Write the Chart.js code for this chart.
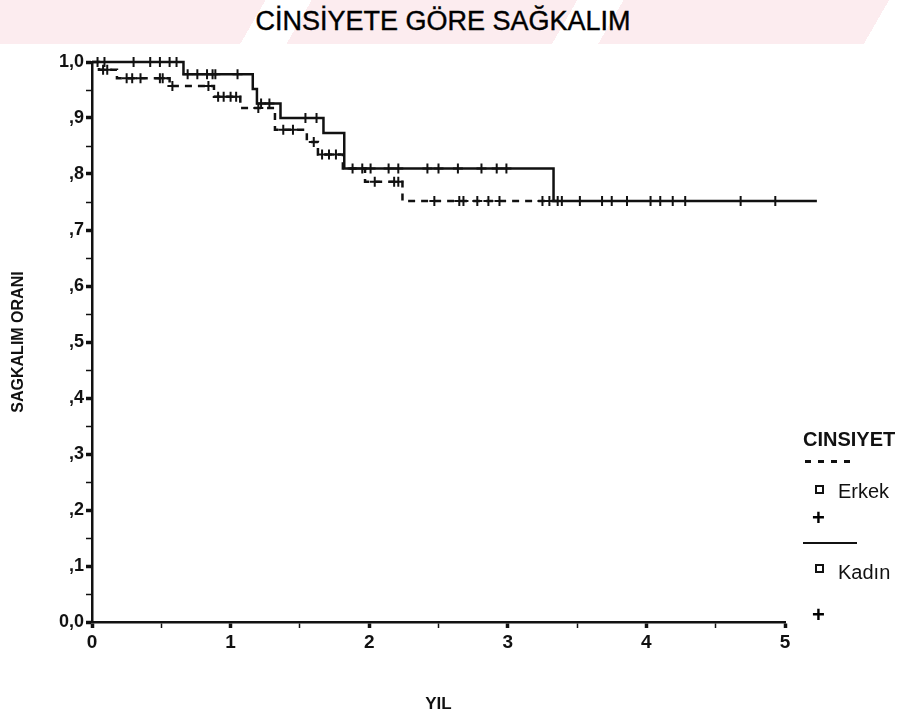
<!DOCTYPE html>
<html>
<head>
<meta charset="utf-8">
<script src="https://cdn.jsdelivr.net/npm/chart.js@4.4.1/dist/chart.umd.min.js"></script>
<style>
    body { margin: 0; background: #fff; }
    #wrap { position: relative; width: 905px; height: 722px; overflow: hidden; }
    #band {
        position: absolute; left: 0; top: 0; width: 905px; height: 44px;
        background: repeating-linear-gradient(120deg, #fcecef 0 230px, #ffffff 230px 270px);
    }
    #title {
        position: absolute; left: 0; top: 6px; width: 886px; text-align: center;
        font-family: "Liberation Sans", Arial, sans-serif; font-size: 27px; color: #000;
        -webkit-text-stroke: 0.4px #000;
    }
    .lg { position: absolute; font-family: "Liberation Sans", Arial, sans-serif; color: #111; line-height: 1; }
    .txt { font-size: 20px; }
    .dash { position: absolute; height: 3px; background: repeating-linear-gradient(90deg, #111 0 6px, transparent 6px 13px); }
    .sq { position: absolute; width: 5px; height: 5px; border: 2px solid #111; }
    .plus { position: absolute; font-family: "Liberation Sans", Arial, sans-serif; font-weight: bold; font-size: 22px; line-height: 22px; }
</style>
</head>
<body>
<div id="wrap">
    <div id="band"></div>
    <div id="title">CİNSİYETE GÖRE SAĞKALIM</div>
    <canvas id="km"></canvas>
    <!-- lejant -->
    <div class="lg txt" style="left:803px; top:429px; font-weight:bold;">CINSIYET</div>
    <div class="dash" style="left:805px; top:460px; width:46px;"></div>
    <div class="sq" style="left:815px; top:485px;"></div>
    <div class="lg txt" style="left:838px; top:481px;">Erkek</div>
    <div class="plus" style="left:812px; top:507px;">+</div>
    <div class="lg" style="left:803px; top:542px; width:54px; border-top:2px solid #111;"></div>
    <div class="sq" style="left:815px; top:564px;"></div>
    <div class="lg txt" style="left:838px; top:562px;">Kadın</div>
    <div class="plus" style="left:812px; top:604px;">+</div>
</div>
<script>
// Kaplan-Meier verileri (yıl, sağkalım oranı)
const kadinTimes = [0, 0.66, 1.16, 1.19, 1.36, 1.67, 1.82, 3.33, 5.23];
const kadinSurv  = [1.0, 0.978, 0.952, 0.926, 0.90, 0.873, 0.81, 0.752, 0.752];
const erkekTimes = [0, 0.05, 0.18, 0.56, 0.88, 1.07, 1.32, 1.55, 1.63, 1.81, 1.97, 2.24, 3.40];
const erkekSurv  = [1.0, 0.986, 0.971, 0.957, 0.938, 0.918, 0.879, 0.857, 0.835, 0.81, 0.786, 0.752, 0.752];

// Sansürlenmiş gözlemler (+)
const kadinCensor = [0.04, 0.09, 0.30, 0.42, 0.49, 0.56, 0.61, 0.69, 0.76, 0.83, 0.87, 0.89, 1.05,
    1.22, 1.28, 1.54, 1.62, 1.88, 1.95, 2.01, 2.14, 2.21, 2.42, 2.50, 2.64, 2.81, 2.92, 2.99,
    3.36, 3.39, 3.52, 3.68, 3.75, 3.86, 4.03, 4.10, 4.19, 4.28, 4.68, 4.93];
const erkekCensor = [0.08, 0.11, 0.25, 0.29, 0.35, 0.49, 0.51, 0.58, 0.84, 0.91, 0.95, 1.00, 1.04,
    1.20, 1.38, 1.45, 1.60, 1.66, 1.71, 1.76, 2.04, 2.18, 2.21, 2.47, 2.65, 2.68, 2.78, 2.86,
    2.94, 3.25, 3.30];

const yTickLabels = ['0,0', ',1', ',2', ',3', ',4', ',5', ',6', ',7', ',8', ',9', '1,0'];
const xTickLabels = ['0', '1', '2', '3', '4', '5'];

function survAt(times, surv, t) {
    let s = surv[0];
    for (let i = 0; i < times.length; i++) {
        if (times[i] <= t) s = surv[i];
    }
    return s;
}

const toPoints = (times, surv) => times.map((t, i) => ({ x: t, y: surv[i] }));
const censorPoints = (list, times, surv) => list.map(t => ({ x: t, y: survAt(times, surv, t) }));

const fam = '"Liberation Sans", Arial, sans-serif';
const isMajor = (v, step) => Math.abs(v / step - Math.round(v / step)) < 1e-6;

new Chart(document.getElementById('km'), {
    type: 'line',
    data: {
        datasets: [
            {
                label: 'Kadın',
                data: toPoints(kadinTimes, kadinSurv),
                stepped: true,
                borderColor: '#111',
                borderWidth: 2.5,
                pointRadius: 0,
                clip: false
            },
            {
                label: 'Erkek',
                data: toPoints(erkekTimes, erkekSurv),
                stepped: true,
                borderColor: '#111',
                borderWidth: 2.5,
                borderDash: [7, 6],
                pointRadius: 0,
                clip: false
            },
            {
                type: 'scatter',
                label: 'Kadın sansür',
                data: censorPoints(kadinCensor, kadinTimes, kadinSurv),
                pointStyle: 'cross',
                pointRadius: 5,
                pointBorderWidth: 2,
                borderColor: '#111',
                clip: false
            },
            {
                type: 'scatter',
                label: 'Erkek sansür',
                data: censorPoints(erkekCensor, erkekTimes, erkekSurv),
                pointStyle: 'cross',
                pointRadius: 5,
                pointBorderWidth: 2,
                borderColor: '#111',
                clip: false
            }
        ]
    },
    options: {
        responsive: true,
        maintainAspectRatio: false,
        animation: false,
        layout: { padding: { top: 62, right: 120, bottom: 0, left: 0 } },
        plugins: {
            legend: { display: false },
            tooltip: { enabled: false }
        },
        scales: {
            x: {
                type: 'linear',
                min: 0,
                max: 5,
                afterFit: s => { s.height = 100; },
                border: { display: true, color: '#111', width: 2.5 },
                grid: {
                    drawOnChartArea: false,
                    tickLength: 6,
                    tickColor: '#111',
                    tickWidth: ctx => isMajor(ctx.tick.value, 1) ? 3.5 : 1.5
                },
                ticks: {
                    stepSize: 0.5,
                    autoSkip: false,
                    maxRotation: 0,
                    padding: 3,
                    color: '#111',
                    font: { family: fam, size: 19, weight: 'bold' },
                    callback: v => isMajor(v, 1) ? xTickLabels[Math.round(v)] : ''
                },
                title: {
                    display: true,
                    text: 'YIL',
                    color: '#111',
                    font: { family: fam, size: 17, weight: 'bold' },
                    padding: { top: 0, bottom: 7 }
                }
            },
            y: {
                min: 0,
                max: 1,
                afterFit: s => { s.width = 92; },
                border: { display: true, color: '#111', width: 2.5 },
                grid: {
                    drawOnChartArea: false,
                    tickLength: 6,
                    tickColor: '#111',
                    tickWidth: ctx => isMajor(ctx.tick.value, 0.1) ? 3.5 : 1.5
                },
                ticks: {
                    stepSize: 0.05,
                    autoSkip: false,
                    padding: 2,
                    color: '#111',
                    font: { family: fam, size: 18, weight: 'bold' },
                    callback: v => isMajor(v, 0.1) ? yTickLabels[Math.round(v * 10)] : ''
                },
                title: {
                    display: true,
                    text: 'SAGKALIM ORANI',
                    color: '#111',
                    font: { family: fam, size: 16, weight: 'bold' },
                    padding: { top: 9, bottom: 0 }
                }
            }
        }
    }
});
</script>
</body>
</html>
